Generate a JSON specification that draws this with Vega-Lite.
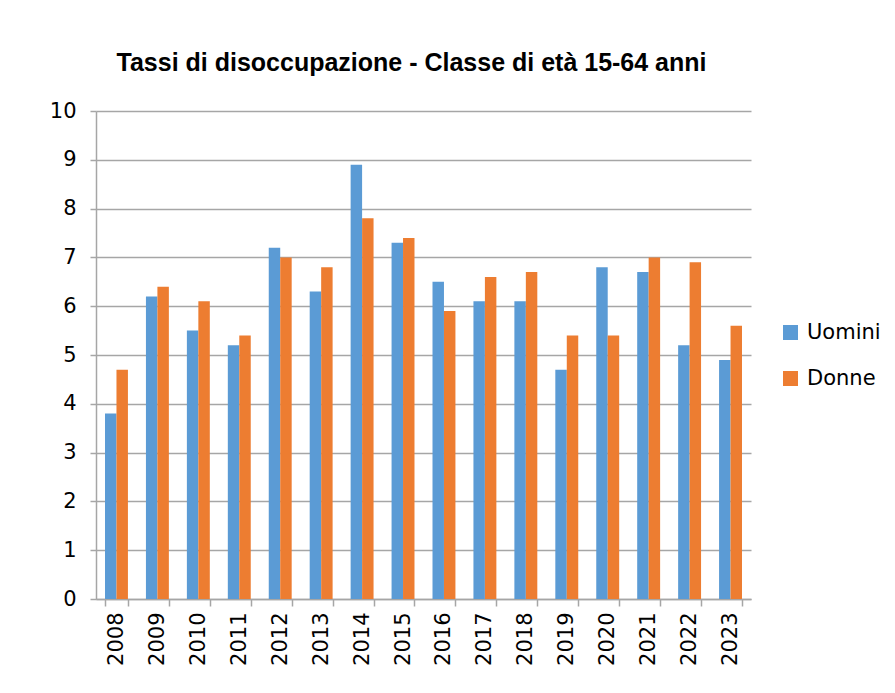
{
  "$schema": "https://vega.github.io/schema/vega-lite/v6.json",
  "autosize": "none",
  "width": 655,
  "height": 488,
  "padding": {"left": 96, "top": 111, "right": 144, "bottom": 94},
  "background": "white",
  "title": {
    "text": "Tassi di disoccupazione - Classe di età 15-64 anni",
    "font": "Liberation Sans Narrow, Liberation Sans",
    "fontWeight": "bold",
    "fontSize": 25,
    "anchor": "middle",
    "dx": -12,
    "offset": 24,
    "color": "black"
  },
  "data": {
    "values": [
      {"anno": "2008", "sesso": "Uomini", "tasso": 3.8},
      {"anno": "2008", "sesso": "Donne", "tasso": 4.7},
      {"anno": "2009", "sesso": "Uomini", "tasso": 6.2},
      {"anno": "2009", "sesso": "Donne", "tasso": 6.4},
      {"anno": "2010", "sesso": "Uomini", "tasso": 5.5},
      {"anno": "2010", "sesso": "Donne", "tasso": 6.1},
      {"anno": "2011", "sesso": "Uomini", "tasso": 5.2},
      {"anno": "2011", "sesso": "Donne", "tasso": 5.4},
      {"anno": "2012", "sesso": "Uomini", "tasso": 7.2},
      {"anno": "2012", "sesso": "Donne", "tasso": 7.0},
      {"anno": "2013", "sesso": "Uomini", "tasso": 6.3},
      {"anno": "2013", "sesso": "Donne", "tasso": 6.8},
      {"anno": "2014", "sesso": "Uomini", "tasso": 8.9},
      {"anno": "2014", "sesso": "Donne", "tasso": 7.8},
      {"anno": "2015", "sesso": "Uomini", "tasso": 7.3},
      {"anno": "2015", "sesso": "Donne", "tasso": 7.4},
      {"anno": "2016", "sesso": "Uomini", "tasso": 6.5},
      {"anno": "2016", "sesso": "Donne", "tasso": 5.9},
      {"anno": "2017", "sesso": "Uomini", "tasso": 6.1},
      {"anno": "2017", "sesso": "Donne", "tasso": 6.6},
      {"anno": "2018", "sesso": "Uomini", "tasso": 6.1},
      {"anno": "2018", "sesso": "Donne", "tasso": 6.7},
      {"anno": "2019", "sesso": "Uomini", "tasso": 4.7},
      {"anno": "2019", "sesso": "Donne", "tasso": 5.4},
      {"anno": "2020", "sesso": "Uomini", "tasso": 6.8},
      {"anno": "2020", "sesso": "Donne", "tasso": 5.4},
      {"anno": "2021", "sesso": "Uomini", "tasso": 6.7},
      {"anno": "2021", "sesso": "Donne", "tasso": 7.0},
      {"anno": "2022", "sesso": "Uomini", "tasso": 5.2},
      {"anno": "2022", "sesso": "Donne", "tasso": 6.9},
      {"anno": "2023", "sesso": "Uomini", "tasso": 4.9},
      {"anno": "2023", "sesso": "Donne", "tasso": 5.6}
    ]
  },
  "mark": {"type": "bar"},
  "encoding": {
    "x": {
      "field": "anno",
      "type": "nominal",
      "title": null,
      "scale": {"paddingInner": 0.44, "paddingOuter": 0.22},
      "axis": {
        "labelAngle": -90,
        "labelAlign": "right",
        "labelBaseline": "middle",
        "labelFont": "DejaVu Sans",
        "labelFontSize": 21,
        "labelColor": "black",
        "labelPadding": 6,
        "tickBand": "extent",
        "tickSize": 7,
        "tickColor": "#a6a6a6",
        "tickWidth": 1.5,
        "domainColor": "#a6a6a6",
        "domainWidth": 1.5,
        "grid": false
      }
    },
    "xOffset": {"field": "sesso", "type": "nominal", "sort": ["Uomini", "Donne"], "scale": {"paddingInner": 0, "paddingOuter": 0}},
    "y": {
      "field": "tasso",
      "type": "quantitative",
      "title": null,
      "scale": {"domain": [0, 10], "nice": false},
      "axis": {
        "values": [0, 1, 2, 3, 4, 5, 6, 7, 8, 9, 10],
        "labelFont": "DejaVu Sans",
        "labelFontSize": 21,
        "labelColor": "black",
        "labelPadding": 14,
        "tickSize": 6,
        "tickColor": "#a6a6a6",
        "tickWidth": 1.5,
        "domainColor": "#a6a6a6",
        "domainWidth": 1.5,
        "gridColor": "#a6a6a6",
        "gridWidth": 1.5
      }
    },
    "color": {
      "field": "sesso",
      "type": "nominal",
      "sort": ["Uomini", "Donne"],
      "scale": {"domain": ["Uomini", "Donne"], "range": ["#5b9bd5", "#ed7d31"]},
      "legend": {
        "title": null,
        "orient": "none",
        "legendX": 684,
        "legendY": 211,
        "symbolType": "square",
        "symbolSize": 225,
        "symbolStrokeWidth": 0,
        "labelFont": "DejaVu Sans",
        "labelFontSize": 21,
        "labelColor": "black",
        "labelOffset": 6,
        "rowPadding": 24
      }
    }
  },
  "config": {"view": {"stroke": null}}
}
